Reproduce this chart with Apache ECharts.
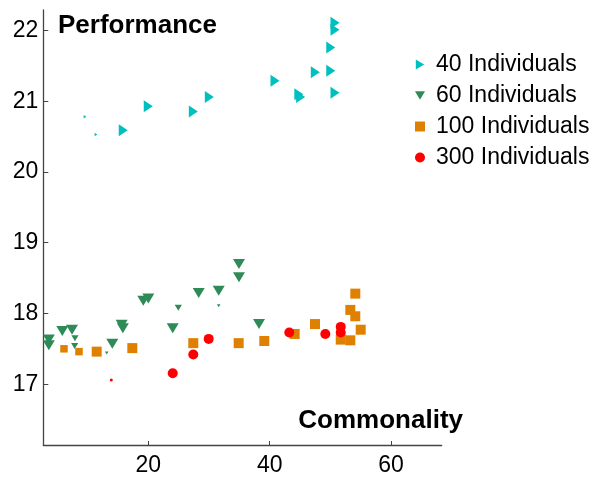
<!DOCTYPE html>
<html>
<head>
<meta charset="utf-8">
<script src="https://cdn.jsdelivr.net/npm/echarts@6/dist/echarts.min.js"></script>
<style>html,body{margin:0;padding:0;background:#fff;overflow:hidden;}#chart{width:592px;height:477px;}</style>
</head>
<body>
<div id="chart"></div>
<script>
// Data: [commonality, performance] and relative marker weight
const seriesNames = ['40 Individuals', '60 Individuals', '100 Individuals', '300 Individuals'];
const xTicks = [20, 40, 60];
const yTicks = [17, 18, 19, 20, 21, 22];
const xTitle = 'Commonality';
const yTitle = 'Performance';

const ind40 = [[9.56,20.78],[11.37,20.53],[15.87,20.59],[19.99,20.93],[27.41,20.855],[30.05,21.06],[40.88,21.29],[44.8,21.1],[45.1,21.06],[47.52,21.41],[50.06,21.43],[50.06,21.76],[50.77,22.11],[50.77,22.01],[50.77,21.12]];
const ind40w = [0.3,0.3,1,1,1,1,1,1,1,1,1,1,1,1,1];

const ind60 = [[3.6,17.63],[3.6,17.55],[5.82,17.75],[7.42,17.77],[7.91,17.65],[7.86,17.54],[13.14,17.44],[14.06,17.57],[15.6,17.84],[15.8,17.79],[19.17,18.18],[20.0,18.21],[24.02,17.79],[24.94,18.08],[28.3,18.29],[31.6,18.32],[31.6,18.11],[34.94,18.70],[34.94,18.51],[38.24,17.85]];
const ind60w = [1,1,1,1,0.6,0.6,0.3,1,1,1,1,1,1,0.6,1,1,0.3,1,1,1];

const ind100 = [[6.1,17.50],[8.57,17.46],[11.49,17.46],[17.36,17.51],[27.41,17.58],[34.89,17.58],[39.11,17.61],[44.12,17.71],[47.47,17.85],[51.71,17.63],[53.29,17.62],[53.29,18.05],[54.11,17.96],[54.11,18.28],[55.0,17.77]];
const ind100w = [0.75,0.75,1,1,1,1,1,1,1,1,1,1,1,1,1];

const ind300 = [[13.9,17.06],[24.02,17.155],[27.41,17.42],[29.95,17.64],[43.23,17.73],[49.17,17.71],[51.71,17.81],[51.71,17.73]];
const ind300w = [0.3,1,1,1,1,1,1,1];

const colors = ['#00BFBF', '#2E8B57', '#E08000', '#FF0000'];
const triRight = 'path://M0,0L10,6L0,12Z';
const triDown = 'path://M0,0L12,0L6,10Z';

function withW(pts, w) { return pts.map((p, i) => [p[0], p[1], w[i]]); }

const FONT = 'Liberation Sans, Arial, sans-serif';
const chart = echarts.init(document.getElementById('chart'), null, {renderer: 'canvas', width: 592, height: 477});
chart.setOption({
  animation: false,
  backgroundColor: '#fff',
  grid: {left: 43.3, width: 398.4, top: 10, height: 436.7, containLabel: false},
  xAxis: {
    type: 'value', min: 2.69, max: 68.35,
    axisLine: {lineStyle: {color: '#444', width: 1.3}},
    axisTick: {inside: true, length: 4, customValues: xTicks, lineStyle: {color: '#444'}},
    axisLabel: {customValues: xTicks, fontFamily: FONT, fontSize: 23, color: '#000', margin: 9},
    splitLine: {show: false}
  },
  yAxis: {
    type: 'value', min: 16.14, max: 22.29,
    axisLine: {show: true, lineStyle: {color: '#444', width: 1.3}},
    axisTick: {show: true, inside: true, length: 5, customValues: yTicks, lineStyle: {color: '#444'}},
    axisLabel: {customValues: yTicks, fontFamily: FONT, fontSize: 23, color: '#000', margin: 5},
    splitLine: {show: false}
  },
  graphic: [
    {type: 'text', left: 58, top: 13, style: {text: yTitle, font: 'bold 26px ' + FONT, fill: '#000'}},
    {type: 'text', right: 129, top: 408, style: {text: xTitle, font: 'bold 26px ' + FONT, fill: '#000'}}
  ],
  legend: {
    orient: 'vertical', left: 410, top: 48, itemGap: 8, itemWidth: 10, itemHeight: 10,
    textStyle: {fontFamily: FONT, fontSize: 23, color: '#000', padding: [0,0,0,6]},
    data: [
      {name: seriesNames[0], icon: triRight},
      {name: seriesNames[1], icon: triDown},
      {name: seriesNames[2], icon: 'rect'},
      {name: seriesNames[3], icon: 'circle'}
    ]
  },
  series: [
    {name: seriesNames[0], type: 'scatter', symbol: triRight, data: withW(ind40, ind40w),
     symbolSize: v => [9 * v[2], 12 * v[2]], itemStyle: {color: colors[0], opacity: 1}},
    {name: seriesNames[1], type: 'scatter', symbol: triDown, data: withW(ind60, ind60w),
     symbolSize: v => [12 * v[2], 10 * v[2]], itemStyle: {color: colors[1], opacity: 1}},
    {name: seriesNames[2], type: 'scatter', symbol: 'rect', data: withW(ind100, ind100w),
     symbolSize: v => 10 * v[2], itemStyle: {color: colors[2], opacity: 1}},
    {name: seriesNames[3], type: 'scatter', symbol: 'circle', data: withW(ind300, ind300w),
     symbolSize: v => 10 * v[2], itemStyle: {color: colors[3], opacity: 1}}
  ]
});
</script>
</body>
</html>
